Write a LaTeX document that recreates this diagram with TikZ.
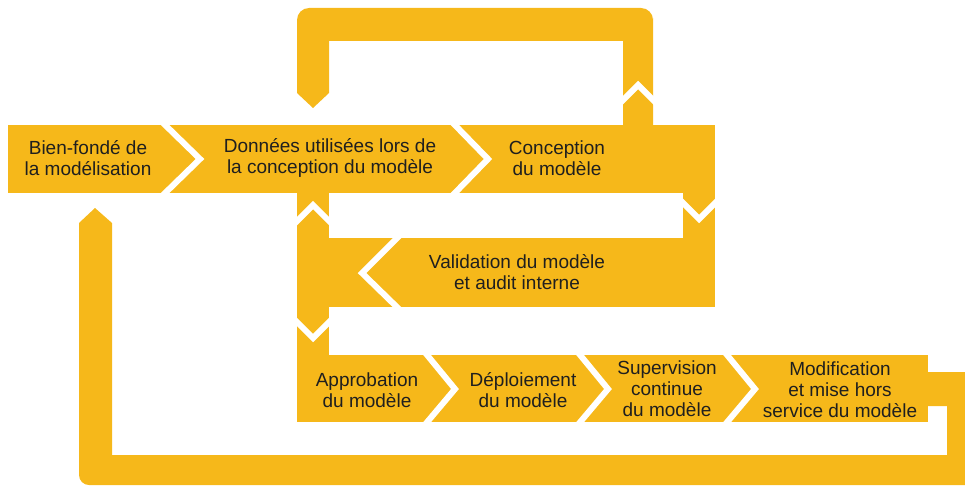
\documentclass[tikz,border=0pt]{standalone}
\usepackage{fontspec}
\setsansfont{Liberation Sans}
\definecolor{gold}{RGB}{246,184,26}
\begin{document}
\begin{tikzpicture}[x=1pt,y=-1pt,
   font=\sffamily\fontsize{19}{21}\selectfont,
   band/.style={fill=gold},
   sep/.style={draw=white,line width=6pt},
   stage/.style={align=center,inner sep=0pt,text=black!88}]
\useasboundingbox (0,0) rectangle (965,487);
\clip (0,0) rectangle (965,487);
\fill[band] (8,125) rectangle (715,193);
\fill[band] (683,193) rectangle (715,238);
\fill[band] (297,193) rectangle (329,422);
\fill[band] (297,238) rectangle (715,307);
\fill[band] (297,355) rectangle (928,422);
\fill[band] (297,93) -- (297,30) [rounded corners=12] -- (297,8) -- (653,8) -- (653,30) [sharp corners] -- (653,125) -- (623,125) -- (623,41) -- (329,41) -- (329,93) -- (313,108) -- cycle;
\fill[band] (79,223) -- (95,208) -- (112,223) -- (112,455) -- (947,455) -- (947,406) -- (928,406) -- (928,372) -- (985,372) -- (985,485) -- (100,485) [rounded corners=10] -- (79,485) -- (79,460) [sharp corners] -- cycle;
\draw[sep] (160,120) -- (200,159) -- (160,198);
\draw[sep] (450,120) -- (488,159) -- (450,198);
\draw[sep] (619,104) -- (638,85) -- (657,104);
\draw[sep] (679,199) -- (699,219) -- (719,199);
\draw[sep] (402,233) -- (362,273) -- (402,312);
\draw[sep] (293,225) -- (313,205) -- (333,225);
\draw[sep] (293,318) -- (313,338) -- (333,318);
\draw[sep] (423,350) -- (455,389) -- (423,427);
\draw[sep] (576,350) -- (608,389) -- (576,427);
\draw[sep] (723,350) -- (755,389) -- (723,427);
\node[stage] (bienfonde) at (88,158) {Bien-fondé de\\la modélisation};
\node[stage] (donnees) at (330,158) {Données utilisées lors de\\la conception du modèle};
\node[stage] (conception) at (557,158) {Conception\\du modèle};
\node[stage] (validation) at (517,272) {Validation du modèle\\et audit interne};
\node[stage] (approbation) at (367,390) {Approbation\\du modèle};
\node[stage] (deploiement) at (523,390) {Déploiement\\du modèle};
\node[stage] (supervision) at (667,389) {Supervision\\continue\\du modèle};
\node[stage] (modification) at (840,390) {Modification\\et mise hors\\service du modèle};
\end{tikzpicture}
\end{document}
